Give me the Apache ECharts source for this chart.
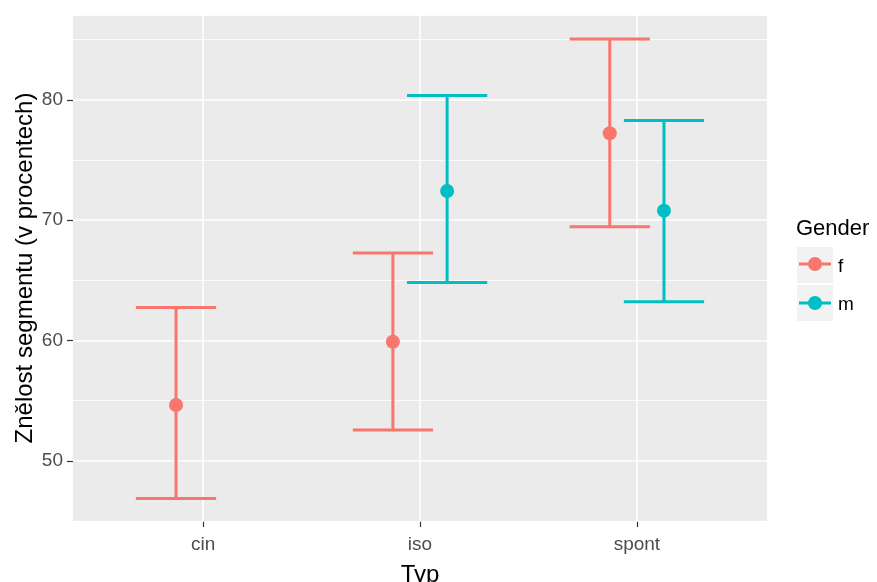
<!DOCTYPE html>
<html>
<head>
<meta charset="utf-8">
<script src="https://cdn.jsdelivr.net/npm/echarts@6/dist/echarts.min.js"></script>
<style>html,body{margin:0;padding:0;background:#fff}#chart{width:877px;height:582px}</style>
</head>
<body>
<div id="chart"></div>
<script>
const categories = ['cin', 'iso', 'spont'];
const genders = ['f', 'm'];
const fMean  = [54.64, 59.89, 77.22];
const fLower = [46.87, 52.56, 69.46];
const fUpper = [62.75, 67.28, 85.06];
const mMean  = [null, 72.42, 70.79];
const mLower = [null, 64.81, 63.23];
const mUpper = [null, 80.37, 78.29];
const yMajorTicks = [50, 60, 70, 80];

const colors = { f: '#F8766D', m: '#00BFC4' };
const dodge = { f: -0.125, m: 0.125 };
const capHalf = 0.185;
const FONT = 'Liberation Sans, Arial, sans-serif';

function buildData(g, mean, lo, hi) {
  const out = [];
  categories.forEach((c, i) => {
    if (mean[i] == null) return;
    out.push([i + 1 + dodge[g], mean[i], lo[i], hi[i]]);
  });
  return out;
}

function renderItem(params, api) {
  const x = api.value(0), m = api.value(1), lo = api.value(2), hi = api.value(3);
  const color = api.visual('color');
  const top = api.coord([x, hi]), bot = api.coord([x, lo]), mid = api.coord([x, m]);
  const tl = api.coord([x - capHalf, hi]), tr = api.coord([x + capHalf, hi]);
  const bl = api.coord([x - capHalf, lo]), br = api.coord([x + capHalf, lo]);
  const st = { stroke: color, lineWidth: 3, lineCap: 'butt' };
  return {
    type: 'group',
    children: [
      { type: 'line', shape: { x1: top[0], y1: top[1], x2: bot[0], y2: bot[1] }, style: st },
      { type: 'line', shape: { x1: tl[0], y1: tl[1], x2: tr[0], y2: tr[1] }, style: st },
      { type: 'line', shape: { x1: bl[0], y1: bl[1], x2: br[0], y2: br[1] }, style: st },
      { type: 'circle', shape: { cx: mid[0], cy: mid[1], r: 7 }, style: { fill: color } }
    ]
  };
}

const yMin = 45, yMax = 87.05;
const chart = echarts.init(document.getElementById('chart'));
chart.setOption({
  animation: false,
  backgroundColor: '#fff',
  grid: { left: 73, right: 110, top: 15, bottom: 61, show: true, backgroundColor: '#EBEBEB', borderWidth: 0,
          containLabel: false, outerBoundsMode: 'none' },
  xAxis: {
    type: 'value', min: 0.4, max: 3.6,
    name: 'Typ', nameLocation: 'middle', nameGap: 42, nameMoveOverlap: false,
    nameTextStyle: { fontFamily: FONT, fontSize: 24, color: '#000' },
    axisLine: { show: false },
    axisTick: { show: true, length: 6, customValues: [1, 2, 3], lineStyle: { color: '#333', width: 1.2 } },
    axisLabel: { customValues: [1, 2, 3], formatter: v => categories[Math.round(v) - 1] || '', fontFamily: FONT, fontSize: 19, color: '#4D4D4D', margin: 14 },
    splitLine: { show: true, lineStyle: { color: '#fff', width: 1.6 } }
  },
  yAxis: [
    {
      type: 'value', min: yMin, max: yMax,
      name: 'Znělost segmentu (v procentech)', nameLocation: 'middle', nameGap: 36, nameMoveOverlap: false,
      nameTextStyle: { fontFamily: FONT, fontSize: 24, color: '#000' },
      axisLine: { show: false },
      axisTick: { show: true, length: 6, customValues: yMajorTicks, lineStyle: { color: '#333', width: 1.2 } },
      axisLabel: { customValues: yMajorTicks, fontFamily: FONT, fontSize: 19, color: '#4D4D4D', margin: 10 },
      splitLine: { show: true, lineStyle: { color: '#fff', width: 1.6 } },
      z: 2
    },
    {
      type: 'value', min: yMin, max: yMax, interval: 10,
      axisLine: { show: false }, axisTick: { show: false }, axisLabel: { show: false },
      splitLine: { show: true, lineStyle: { color: '#fff', width: 0.8 } },
      z: 1
    }
  ],
  series: [
    { name: 'f', type: 'custom', yAxisIndex: 0, renderItem, itemStyle: { color: colors.f },
      encode: { x: 0, y: [1, 2, 3] }, data: buildData('f', fMean, fLower, fUpper), z: 5 },
    { name: 'm', type: 'custom', yAxisIndex: 0, renderItem, itemStyle: { color: colors.m },
      encode: { x: 0, y: [1, 2, 3] }, data: buildData('m', mMean, mLower, mUpper), z: 5 }
  ],
  graphic: [
    { type: 'text', left: 796, top: 218, style: { text: 'Gender', fontFamily: FONT, fontSize: 22, fill: '#000' } },
    { type: 'rect', shape: { x: 797, y: 247, width: 36, height: 36 }, style: { fill: '#F2F2F2' } },
    { type: 'line', shape: { x1: 799, y1: 264, x2: 831, y2: 264 }, style: { stroke: colors.f, lineWidth: 3 } },
    { type: 'circle', shape: { cx: 815, cy: 264, r: 7 }, style: { fill: colors.f } },
    { type: 'text', left: 838, top: 257, style: { text: genders[0], fontFamily: FONT, fontSize: 19, fill: '#000' } },
    { type: 'rect', shape: { x: 797, y: 285, width: 36, height: 36 }, style: { fill: '#F2F2F2' } },
    { type: 'line', shape: { x1: 799, y1: 303, x2: 831, y2: 303 }, style: { stroke: colors.m, lineWidth: 3 } },
    { type: 'circle', shape: { cx: 815, cy: 303, r: 7 }, style: { fill: colors.m } },
    { type: 'text', left: 838, top: 295, style: { text: genders[1], fontFamily: FONT, fontSize: 19, fill: '#000' } }
  ]
});
</script>
</body>
</html>
